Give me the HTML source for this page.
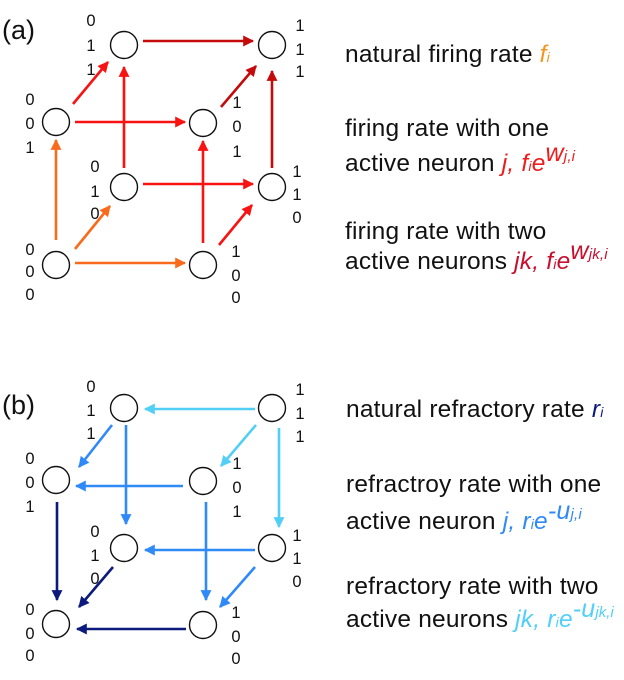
<!DOCTYPE html>
<html><head><meta charset="utf-8"><style>
html,body{margin:0;padding:0;background:#fff;overflow:hidden;}
svg{display:block;}
text{font-family:"Liberation Sans",sans-serif;}
.d{font-size:16.5px;fill:#111;}
.t{font-size:24.5px;fill:#111;letter-spacing:0.2px;}
</style></head><body>
<svg width="624" height="680" viewBox="0 0 624 680" xmlns="http://www.w3.org/2000/svg">
<defs>
<marker id="mo" viewBox="0 0 10 10" refX="9" refY="5" markerWidth="4.6" markerHeight="4.2" orient="auto"><path d="M0,0L10,5L0,10z" fill="#fa6a1c"/></marker>
<marker id="mr" viewBox="0 0 10 10" refX="9" refY="5" markerWidth="4.6" markerHeight="4.2" orient="auto"><path d="M0,0L10,5L0,10z" fill="#f81212"/></marker>
<marker id="md" viewBox="0 0 10 10" refX="9" refY="5" markerWidth="4.6" markerHeight="4.2" orient="auto"><path d="M0,0L10,5L0,10z" fill="#c40a0a"/></marker>
<marker id="ml" viewBox="0 0 10 10" refX="9" refY="5" markerWidth="4.6" markerHeight="4.2" orient="auto"><path d="M0,0L10,5L0,10z" fill="#52cff7"/></marker>
<marker id="mb" viewBox="0 0 10 10" refX="9" refY="5" markerWidth="4.6" markerHeight="4.2" orient="auto"><path d="M0,0L10,5L0,10z" fill="#2f8af8"/></marker>
<marker id="mn" viewBox="0 0 10 10" refX="9" refY="5" markerWidth="4.6" markerHeight="4.2" orient="auto"><path d="M0,0L10,5L0,10z" fill="#0c1a7e"/></marker>
</defs>
<text x="2" y="39" style="font-size:27px;fill:#111">(a)</text>
<text x="2" y="414" style="font-size:27px;fill:#111">(b)</text>
<g stroke-width="2.6" fill="none">
<g stroke="#fa6a1c">
<line x1="56" y1="240" x2="56" y2="140" marker-end="url(#mo)"/>
<line x1="75" y1="263" x2="185" y2="263" marker-end="url(#mo)"/>
<line x1="75" y1="249" x2="110" y2="206" marker-end="url(#mo)"/>
</g>
<g stroke="#f81212">
<line x1="73" y1="104" x2="108" y2="62" marker-end="url(#mr)"/>
<line x1="75" y1="122" x2="185" y2="122" marker-end="url(#mr)"/>
<line x1="124" y1="168" x2="124" y2="67" marker-end="url(#mr)"/>
<line x1="143" y1="184" x2="253" y2="184" marker-end="url(#mr)"/>
<line x1="203" y1="243" x2="203" y2="141" marker-end="url(#mr)"/>
<line x1="219" y1="245" x2="252" y2="205" marker-end="url(#mr)"/>
</g>
<g stroke="#c40a0a">
<line x1="143" y1="41" x2="253" y2="41" marker-end="url(#md)"/>
<line x1="221" y1="107" x2="256" y2="66" marker-end="url(#md)"/>
<line x1="272" y1="168" x2="272" y2="71" marker-end="url(#md)"/>
</g>
<g stroke="#52cff7">
<line x1="255" y1="409" x2="145" y2="409" marker-end="url(#ml)"/>
<line x1="256" y1="425" x2="221" y2="466" marker-end="url(#ml)"/>
<line x1="279" y1="428" x2="279" y2="527" marker-end="url(#ml)"/>
</g>
<g stroke="#2f8af8">
<line x1="112" y1="425" x2="79" y2="467" marker-end="url(#mb)"/>
<line x1="126" y1="425" x2="126" y2="524" marker-end="url(#mb)"/>
<line x1="183" y1="486" x2="76" y2="486" marker-end="url(#mb)"/>
<line x1="206" y1="502" x2="206" y2="600" marker-end="url(#mb)"/>
<line x1="255" y1="550" x2="145" y2="550" marker-end="url(#mb)"/>
<line x1="255" y1="567" x2="220" y2="607" marker-end="url(#mb)"/>
</g>
<g stroke="#0c1a7e">
<line x1="57" y1="502" x2="57" y2="600" marker-end="url(#mn)"/>
<line x1="113" y1="567" x2="79" y2="607" marker-end="url(#mn)"/>
<line x1="186" y1="629" x2="77" y2="629" marker-end="url(#mn)"/>
</g>
</g>
<g fill="#fff" stroke="#111" stroke-width="1.4">
<circle cx="56" cy="265" r="13.5"/><circle cx="203" cy="265" r="13.5"/>
<circle cx="124" cy="187" r="13.5"/><circle cx="272" cy="187" r="13.5"/>
<circle cx="56" cy="122" r="13.5"/><circle cx="203" cy="123" r="13.5"/>
<circle cx="124" cy="45" r="13.5"/><circle cx="272" cy="45" r="13.5"/>
<circle cx="56" cy="480" r="13.5"/><circle cx="203" cy="481" r="13.5"/>
<circle cx="124" cy="408" r="13.5"/><circle cx="272" cy="408" r="13.5"/>
<circle cx="56" cy="624" r="13.5"/><circle cx="203" cy="625" r="13.5"/>
<circle cx="124" cy="548" r="13.5"/><circle cx="272" cy="548" r="13.5"/>
</g>
<g class="d" text-anchor="middle">
<text x="91" y="26">0</text><text x="91" y="51">1</text><text x="91" y="75">1</text>
<text x="300" y="31">1</text><text x="300" y="55">1</text><text x="300" y="77">1</text>
<text x="30" y="105">0</text><text x="30" y="129">0</text><text x="30" y="153">1</text>
<text x="237" y="108">1</text><text x="237" y="132">0</text><text x="237" y="157">1</text>
<text x="95" y="172">0</text><text x="95" y="197">1</text><text x="95" y="219">0</text>
<text x="297" y="177">1</text><text x="297" y="200">1</text><text x="297" y="223">0</text>
<text x="30" y="255">0</text><text x="30" y="277">0</text><text x="30" y="300">0</text>
<text x="236" y="257">1</text><text x="236" y="281">0</text><text x="236" y="303">0</text>
<text x="91" y="392">0</text><text x="91" y="416">1</text><text x="91" y="439">1</text>
<text x="300" y="395">1</text><text x="300" y="419">1</text><text x="300" y="442">1</text>
<text x="30" y="464">0</text><text x="30" y="488">0</text><text x="30" y="512">1</text>
<text x="237" y="469">1</text><text x="237" y="493">0</text><text x="237" y="517">1</text>
<text x="95" y="537">0</text><text x="95" y="561">1</text><text x="95" y="584">0</text>
<text x="297" y="541">1</text><text x="297" y="564">1</text><text x="297" y="587">0</text>
<text x="30" y="615">0</text><text x="30" y="639">0</text><text x="30" y="661">0</text>
<text x="236" y="618">1</text><text x="236" y="642">0</text><text x="236" y="664">0</text>
</g>
<g class="t">
<text x="345" y="62">natural firing rate <tspan fill="#f7941d" font-style="italic">f<tspan font-size="14">i</tspan></tspan></text>
<text x="345" y="136">firing rate with one</text>
<text x="345" y="171">active neuron <tspan fill="#ee1c1c" font-style="italic">j, f<tspan font-size="14">i</tspan>e<tspan font-size="25" dy="-10">w</tspan><tspan font-size="15">j,i</tspan></tspan></text>
<text x="345" y="239">firing rate with two</text>
<text x="345" y="269">active neurons <tspan fill="#c8102e" font-style="italic">jk, f<tspan font-size="14">i</tspan>e<tspan font-size="25" dy="-10">w</tspan><tspan font-size="15">jk,i</tspan></tspan></text>
<text x="346" y="417">natural refractory rate <tspan fill="#0c1a7e" font-style="italic">r<tspan font-size="14">i</tspan></tspan></text>
<text x="346" y="492">refractroy rate with one</text>
<text x="346" y="529">active neuron <tspan fill="#2f8af8" font-style="italic">j, r<tspan font-size="14">i</tspan>e<tspan font-size="25" dy="-10">-u</tspan><tspan font-size="15">j,i</tspan></tspan></text>
<text x="346" y="594">refractory rate with two</text>
<text x="346" y="627">active neurons <tspan fill="#52cff7" font-style="italic">jk, r<tspan font-size="14">i</tspan>e<tspan font-size="25" dy="-10">-u</tspan><tspan font-size="15" letter-spacing="0">jk,i</tspan></tspan></text>
</g>
</svg>
</body></html>
